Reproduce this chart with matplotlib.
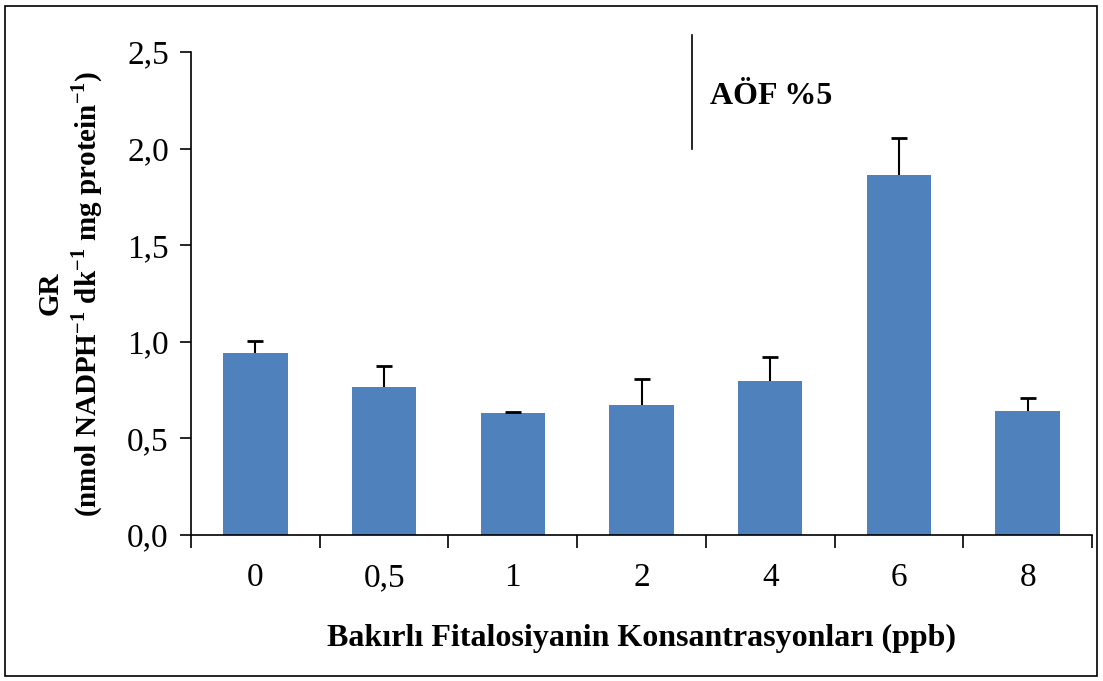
import matplotlib
matplotlib.use("Agg")
import matplotlib.pyplot as plt
from matplotlib.patches import Rectangle
from matplotlib.ticker import FuncFormatter

plt.rcParams['font.family'] = ['Liberation Serif', 'DejaVu Serif']
plt.rcParams['mathtext.fontset'] = 'custom'
plt.rcParams['mathtext.rm'] = 'Liberation Serif'
plt.rcParams['mathtext.bf'] = 'Liberation Serif:bold'

categories = ['0', '0,5', '1', '2', '4', '6', '8']
gr_means = [0.94, 0.764, 0.63, 0.673, 0.797, 1.863, 0.642]
gr_errors = [0.065, 0.112, 0.005, 0.134, 0.124, 0.19, 0.067]

bar_color = '#4f81bd'

fig = plt.figure(figsize=(11.03, 6.81), dpi=100)
ax = fig.add_axes([0.1732, 0.2144, 0.8168, 0.7092])

x = list(range(len(categories)))
ax.bar(x, gr_means, width=0.5, color=bar_color)

# only the upper half of the error bar is drawn, with a cap on top
ax.errorbar(x, gr_means, yerr=[[0] * len(gr_errors), gr_errors], fmt='none',
            ecolor='black', elinewidth=1.5, capsize=0)
tops = [m + e for m, e in zip(gr_means, gr_errors)]
ax.plot(x, tops, linestyle='none', marker='_', markersize=11, markeredgewidth=2, color='black')

ax.set_xlim(-0.5, len(categories) - 0.5)
ax.set_ylim(0, 2.5)
ax.set_yticks([0, 0.5, 1.0, 1.5, 2.0, 2.5])
ax.yaxis.set_major_formatter(FuncFormatter(lambda v, p: f"{v:.1f}".replace('.', ',')))

# category labels between the boundary ticks
ax.set_xticks([i - 0.5 for i in range(len(categories) + 1)])
ax.set_xticklabels([])
ax.set_xticks(x, minor=True)
ax.set_xticklabels(categories, minor=True)
ax.tick_params(axis='x', which='minor', length=0, pad=20, labelsize=24)
ax.tick_params(axis='x', which='major', length=9, width=1.2, direction='out')
ax.tick_params(axis='y', length=8, width=1.2, direction='out', labelsize=24, pad=8)

for side in ['top', 'right']:
    ax.spines[side].set_visible(False)
for side in ['left', 'bottom']:
    ax.spines[side].set_linewidth(1.2)

ax.set_xlabel('Bakırlı Fitalosiyanin Konsantrasyonları (ppb)', fontsize=23, fontweight='bold', labelpad=22)
ax.set_ylabel('GR\n(nmol NADPH$^{\\mathbf{-1}}$ dk$^{\\mathbf{-1}}$ mg protein$^{\\mathbf{-1}}$)',
              fontsize=21, fontweight='bold', linespacing=1.25)
ax.yaxis.set_label_coords(-0.095, 0.5)

# AÖF marker
ax.plot([3.39, 3.39], [2.0, 2.59], color='black', linewidth=1.2, clip_on=False)
ax.text(3.53, 2.27, 'AÖF %5', fontsize=23, fontweight='bold', va='center', ha='left')

fig.add_artist(Rectangle((5 / 1103, 5 / 681), 1092 / 1103, 670 / 681, transform=fig.transFigure,
                         fill=False, edgecolor='black', linewidth=1.2))

plt.savefig('out.png', dpi=100)
